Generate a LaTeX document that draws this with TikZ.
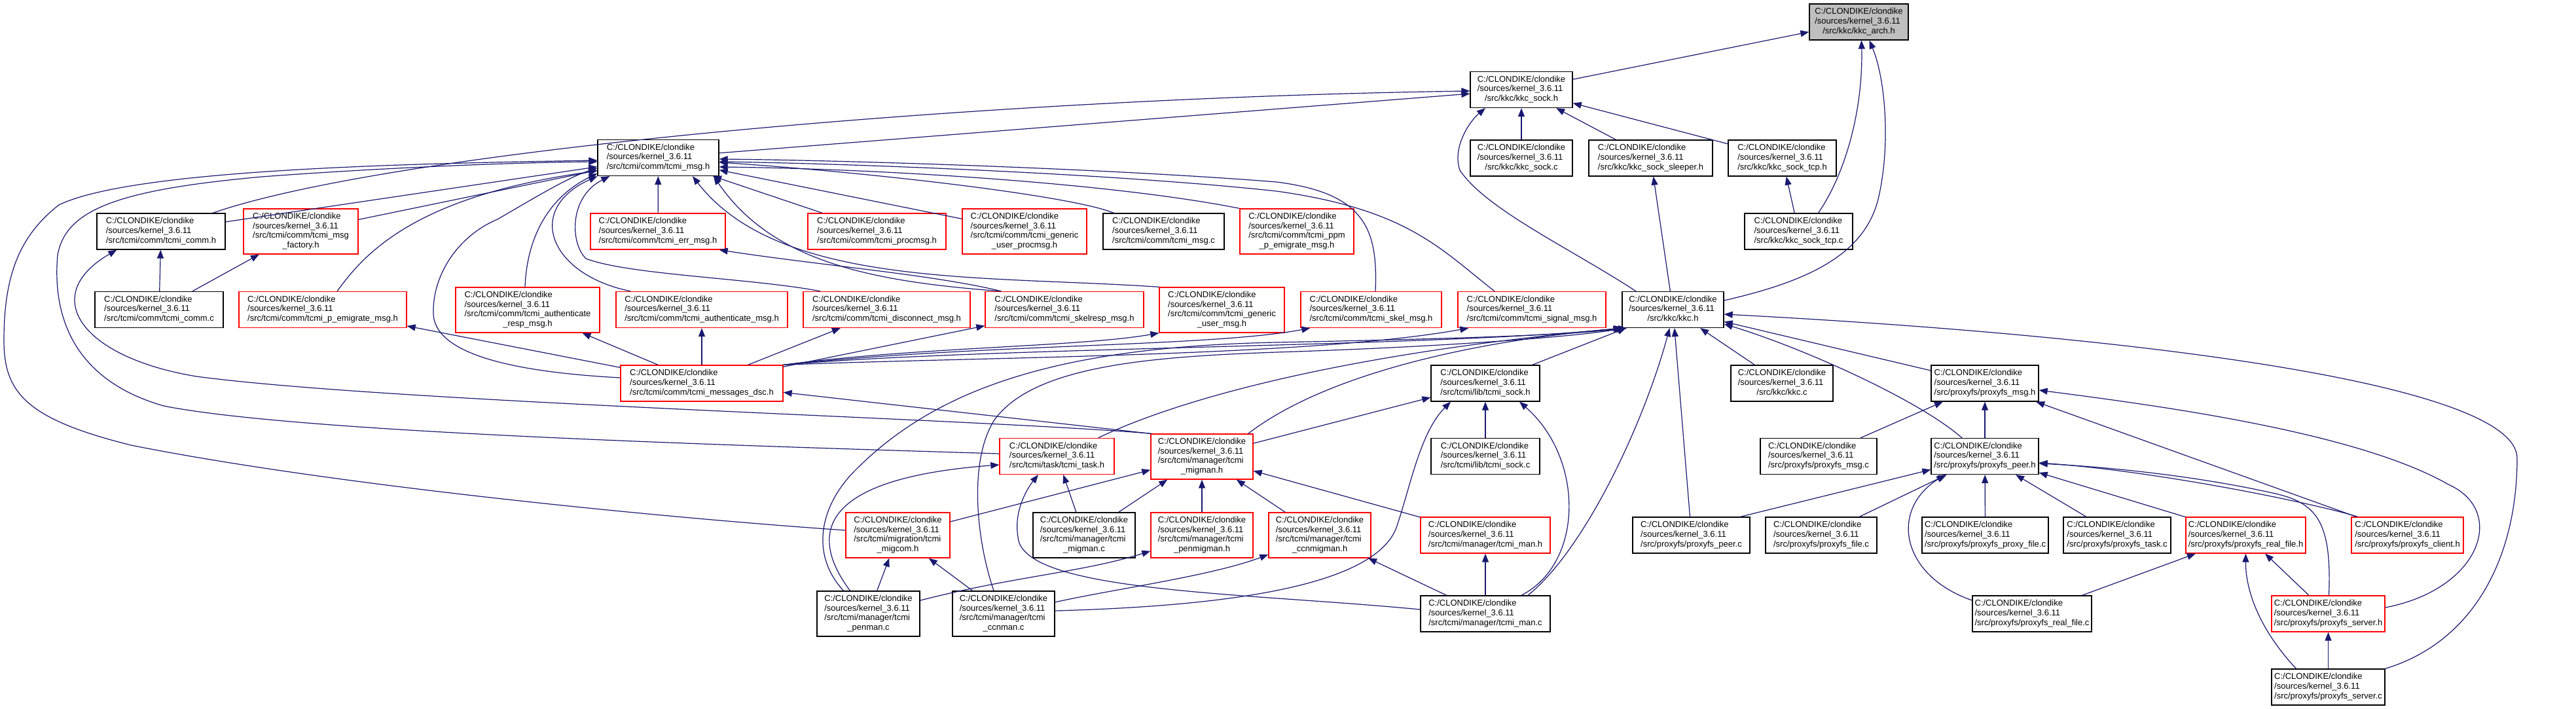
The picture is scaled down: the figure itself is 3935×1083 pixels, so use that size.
\documentclass[tikz,border=0pt]{standalone}
\usepackage{fontspec}
\setmainfont{Liberation Sans}
\usetikzlibrary{arrows.meta}

\definecolor{incblue}{HTML}{191970}
\definecolor{rootgray}{HTML}{BFBFBF}

% file labels: fixed prefix, then the path (last line centred)
\newcommand{\fthree}[1]{\begin{tabular}{@{}l@{}}C:/CLONDIKE/clondike\\/sources/kernel\_3.6.11\\\multicolumn{1}{@{}c@{}}{#1}\end{tabular}}
\newcommand{\ffour}[2]{\begin{tabular}{@{}l@{}}C:/CLONDIKE/clondike\\/sources/kernel\_3.6.11\\#1\\\multicolumn{1}{@{}c@{}}{#2}\end{tabular}}

\begin{document}
\begin{tikzpicture}[
    x=1pt, y=-1pt,
    fnode/.style={draw=black, line width=1.3pt, rectangle, inner sep=0pt, font=\fontsize{13}{14.7}\selectfont},
    fpart/.style={fnode, draw=red},
    froot/.style={fnode, fill=rootgray},
    n3/.style={minimum height=55pt},
    n4/.style={minimum height=69pt},
    inc/.style={draw=incblue, line width=1.2pt, -{Triangle[length=13pt,width=10pt]}}
]
    \path[use as bounding box, fill=white] (0,0) rectangle (3935,1083);

    % kkc headers
    \node[froot, n3, minimum width=151pt] (kkc_arch) at (2839.5,33.5) {\fthree{/src/kkc/kkc\_arch.h}};
    \node[fnode, n3, minimum width=156pt] (kkc_sock_h) at (2324,137) {\fthree{/src/kkc/kkc\_sock.h}};
    \node[fnode, n3, minimum width=185pt] (tcmi_msg_h) at (1005.5,241) {\fthree{/src/tcmi/comm/tcmi\_msg.h}};
    \node[fnode, n3, minimum width=156pt] (kkc_sock_c) at (2324,241.5) {\fthree{/src/kkc/kkc\_sock.c}};
    \node[fnode, n3, minimum width=189pt] (kkc_sock_sleeper_h) at (2521.5,241.5) {\fthree{/src/kkc/kkc\_sock\_sleeper.h}};
    \node[fnode, n3, minimum width=165pt] (kkc_sock_tcp_h) at (2722.5,241.5) {\fthree{/src/kkc/kkc\_sock\_tcp.h}};

    % comm layer
    \node[fnode, n3, minimum width=196pt] (tcmi_comm_h) at (246,353.5) {\fthree{/src/tcmi/comm/tcmi\_comm.h}};
    \node[fpart, n4, minimum width=175pt] (tcmi_msg_factory_h) at (459.5,353.5) {\ffour{/src/tcmi/comm/tcmi\_msg}{\_factory.h}};
    \node[fpart, n3, minimum width=206pt] (tcmi_err_msg_h) at (1005,353.5) {\fthree{/src/tcmi/comm/tcmi\_err\_msg.h}};
    \node[fpart, n3, minimum width=211pt] (tcmi_procmsg_h) at (1339.5,353.5) {\fthree{/src/tcmi/comm/tcmi\_procmsg.h}};
    \node[fpart, n4, minimum width=190pt] (tcmi_generic_user_procmsg_h) at (1565,353.5) {\ffour{/src/tcmi/comm/tcmi\_generic}{\_user\_procmsg.h}};
    \node[fnode, n3, minimum width=185pt] (tcmi_msg_c) at (1777.5,353.5) {\fthree{/src/tcmi/comm/tcmi\_msg.c}};
    \node[fpart, n4, minimum width=174pt] (tcmi_ppm_h) at (1981,353.5) {\ffour{/src/tcmi/comm/tcmi\_ppm}{\_p\_emigrate\_msg.h}};
    \node[fnode, n3, minimum width=165pt] (kkc_sock_tcp_c) at (2747.5,353.5) {\fthree{/src/kkc/kkc\_sock\_tcp.c}};

    \node[fnode, n3, minimum width=196pt] (tcmi_comm_c) at (243,473) {\fthree{/src/tcmi/comm/tcmi\_comm.c}};
    \node[fpart, n3, minimum width=256pt] (tcmi_p_emigrate_msg_h) at (493,473) {\fthree{/src/tcmi/comm/tcmi\_p\_emigrate\_msg.h}};
    \node[fpart, n4, minimum width=220pt] (tcmi_authenticate_resp_msg_h) at (806,473.5) {\ffour{/src/tcmi/comm/tcmi\_authenticate}{\_resp\_msg.h}};
    \node[fpart, n3, minimum width=262pt] (tcmi_authenticate_msg_h) at (1072,473) {\fthree{/src/tcmi/comm/tcmi\_authenticate\_msg.h}};
    \node[fpart, n3, minimum width=255pt] (tcmi_disconnect_msg_h) at (1354.5,473) {\fthree{/src/tcmi/comm/tcmi\_disconnect\_msg.h}};
    \node[fpart, n3, minimum width=242pt] (tcmi_skelresp_msg_h) at (1626,473) {\fthree{/src/tcmi/comm/tcmi\_skelresp\_msg.h}};
    \node[fpart, n4, minimum width=191pt] (tcmi_generic_user_msg_h) at (1866.5,473.5) {\ffour{/src/tcmi/comm/tcmi\_generic}{\_user\_msg.h}};
    \node[fpart, n3, minimum width=215pt] (tcmi_skel_msg_h) at (2094.5,473) {\fthree{/src/tcmi/comm/tcmi\_skel\_msg.h}};
    \node[fpart, n3, minimum width=226pt] (tcmi_signal_msg_h) at (2340,473) {\fthree{/src/tcmi/comm/tcmi\_signal\_msg.h}};
    \node[fnode, n3, minimum width=155pt] (kkc_h) at (2555.5,473) {\fthree{/src/kkc/kkc.h}};

    \node[fpart, n3, minimum width=248pt] (tcmi_messages_dsc_h) at (1072,585.5) {\fthree{/src/tcmi/comm/tcmi\_messages\_dsc.h}};
    \node[fnode, n3, minimum width=166pt] (tcmi_sock_h) at (2269,585.5) {\fthree{/src/tcmi/lib/tcmi\_sock.h}};
    \node[fnode, n3, minimum width=156pt] (kkc_c) at (2722,585.5) {\fthree{/src/kkc/kkc.c}};
    \node[fnode, n3, minimum width=164pt] (proxyfs_msg_h) at (3032,585.5) {\fthree{/src/proxyfs/proxyfs\_msg.h}};

    % manager and proxyfs
    \node[fpart, n3, minimum width=175pt] (tcmi_task_h) at (1614.5,697) {\fthree{/src/tcmi/task/tcmi\_task.h}};
    \node[fpart, n4, minimum width=156pt] (tcmi_migman_h) at (1836,697.5) {\ffour{/src/tcmi/manager/tcmi}{\_migman.h}};
    \node[fnode, n3, minimum width=166pt] (tcmi_sock_c) at (2269,697) {\fthree{/src/tcmi/lib/tcmi\_sock.c}};
    \node[fnode, n3, minimum width=178pt] (proxyfs_msg_c) at (2778,697) {\fthree{/src/proxyfs/proxyfs\_msg.c}};
    \node[fnode, n3, minimum width=164pt] (proxyfs_peer_h) at (3032,697) {\fthree{/src/proxyfs/proxyfs\_peer.h}};

    \node[fpart, n4, minimum width=159pt] (tcmi_migcom_h) at (1371.5,817.5) {\ffour{/src/tcmi/migration/tcmi}{\_migcom.h}};
    \node[fnode, n4, minimum width=156pt] (tcmi_migman_c) at (1656,817.5) {\ffour{/src/tcmi/manager/tcmi}{\_migman.c}};
    \node[fpart, n4, minimum width=156pt] (tcmi_penmigman_h) at (1836,817.5) {\ffour{/src/tcmi/manager/tcmi}{\_penmigman.h}};
    \node[fpart, n4, minimum width=156pt] (tcmi_ccnmigman_h) at (2016,817.5) {\ffour{/src/tcmi/manager/tcmi}{\_ccnmigman.h}};
    \node[fpart, n3, minimum width=198pt] (tcmi_man_h) at (2269,817.5) {\fthree{/src/tcmi/manager/tcmi\_man.h}};
    \node[fnode, n3, minimum width=179pt] (proxyfs_peer_c) at (2583.5,817.5) {\fthree{/src/proxyfs/proxyfs\_peer.c}};
    \node[fnode, n3, minimum width=170pt] (proxyfs_file_c) at (2782,817.5) {\fthree{/src/proxyfs/proxyfs\_file.c}};
    \node[fnode, n3, minimum width=193pt] (proxyfs_proxy_file_c) at (3032.5,817.5) {\fthree{/src/proxyfs/proxyfs\_proxy\_file.c}};
    \node[fnode, n3, minimum width=164pt] (proxyfs_task_c) at (3234,817.5) {\fthree{/src/proxyfs/proxyfs\_task.c}};
    \node[fpart, n3, minimum width=183pt] (proxyfs_real_file_h) at (3430.5,817.5) {\fthree{/src/proxyfs/proxyfs\_real\_file.h}};
    \node[fpart, n3, minimum width=171pt] (proxyfs_client_h) at (3677.5,817.5) {\fthree{/src/proxyfs/proxyfs\_client.h}};

    \node[fnode, n4, minimum width=157pt] (tcmi_penman_c) at (1326.5,937.5) {\ffour{/src/tcmi/manager/tcmi}{\_penman.c}};
    \node[fnode, n4, minimum width=156pt] (tcmi_ccnman_c) at (1533,937.5) {\ffour{/src/tcmi/manager/tcmi}{\_ccnman.c}};
    \node[fnode, n3, minimum width=198pt] (tcmi_man_c) at (2269,937.5) {\fthree{/src/tcmi/manager/tcmi\_man.c}};
    \node[fnode, n3, minimum width=182pt] (proxyfs_real_file_c) at (3104,937.5) {\fthree{/src/proxyfs/proxyfs\_real\_file.c}};
    \node[fpart, n3, minimum width=173pt] (proxyfs_server_h) at (3556.5,937.5) {\fthree{/src/proxyfs/proxyfs\_server.h}};
    \node[fnode, n3, minimum width=173pt] (proxyfs_server_c) at (3556.5,1049.5) {\fthree{/src/proxyfs/proxyfs\_server.c}};

    % includes of kkc_arch.h and kkc_sock.h
    \path[inc] (kkc_sock_h) -- (kkc_arch);
    \path[inc] ([xshift=30pt]kkc_sock_tcp_c.north) .. controls (2818,267) and (2846,170) .. ([xshift=4pt]kkc_arch.south);
    \path[inc] ([yshift=14pt]kkc_h.east) .. controls (2760,430) and (2850,390) .. (2870,300) .. controls (2888,220) and (2880,120) .. ([xshift=16pt]kkc_arch.south);
    \path[inc] (tcmi_msg_h) -- (kkc_sock_h);
    \path[inc] ([xshift=79pt]tcmi_comm_h.north) .. controls (600,230) and (1500,150) .. ([yshift=-2pt]kkc_sock_h.west);
    \path[inc] (kkc_sock_c) -- (kkc_sock_h);
    \path[inc] (kkc_sock_sleeper_h) -- (kkc_sock_h);
    \path[inc] (kkc_sock_tcp_h) -- (kkc_sock_h);
    \path[inc] ([xshift=-56.5pt]kkc_h.north) .. controls (2400,380) and (2270,320) .. (2230,260) .. controls (2218,225) and (2245,185) .. ([xshift=-55pt]kkc_sock_h.south);
    \path[inc] (kkc_h) -- (kkc_sock_sleeper_h);
    \path[inc] (kkc_sock_tcp_c) -- (kkc_sock_tcp_h);

    % includes of tcmi_msg.h
    \path[inc] (tcmi_comm_h) -- (tcmi_msg_h);
    \path[inc] (tcmi_msg_factory_h) -- (tcmi_msg_h);
    \path[inc] (tcmi_err_msg_h) -- (tcmi_msg_h);
    \path[inc] (tcmi_procmsg_h) -- (tcmi_msg_h);
    \path[inc] (tcmi_generic_user_procmsg_h) -- (tcmi_msg_h);
    \path[inc] ([xshift=17pt]tcmi_msg_c.north west) .. controls (1640,300) and (1350,265) .. ([yshift=-7pt]tcmi_msg_h.east);
    \path[inc] (tcmi_ppm_h.north west) .. controls (1700,280) and (1350,258) .. ([yshift=-14pt]tcmi_msg_h.east);
    \path[inc] ([xshift=22pt]tcmi_p_emigrate_msg_h.north) .. controls (555,390) and (630,300) .. ([yshift=-20pt]tcmi_msg_h.west);
    \path[inc] ([xshift=-4pt]tcmi_authenticate_resp_msg_h.north) .. controls (805,360) and (840,300) .. ([yshift=-24pt]tcmi_msg_h.west);
    \path[inc] ([xshift=23pt]tcmi_authenticate_msg_h.north west) .. controls (840,420) and (800,320) .. (tcmi_msg_h.south west);
    \path[inc] ([xshift=-101.5pt]tcmi_disconnect_msg_h.north) .. controls (1150,425) and (960,420) .. (895,395) .. controls (870,370) and (870,300) .. ([xshift=19pt]tcmi_msg_h.south west);
    \path[inc] ([xshift=25pt]tcmi_skelresp_msg_h.north west) .. controls (1330,430) and (1180,400) .. ([xshift=84.5pt]tcmi_msg_h.south);
    \path[inc] (tcmi_generic_user_msg_h.north west) .. controls (1500,420) and (1190,440) .. ([xshift=52.5pt]tcmi_msg_h.south);
    \path[inc] ([xshift=6.5pt]tcmi_skel_msg_h.north) .. controls (2105,350) and (2085,295) .. (1950,278) .. controls (1700,258) and (1300,245) .. ([yshift=-2pt]tcmi_msg_h.east);
    \path[inc] ([xshift=-57pt]tcmi_signal_msg_h.north) .. controls (2200,380) and (2150,320) .. (1950,292) .. controls (1700,265) and (1300,250) .. ([yshift=-6pt]tcmi_msg_h.east);
    \path[inc] ([yshift=8.5pt]tcmi_messages_dsc_h.west) .. controls (780,568) and (665,540) .. (662,480) .. controls (660,420) and (700,360) .. (760,335) .. controls (820,300) and (870,270) .. ([yshift=-16pt]tcmi_msg_h.west);
    \path[inc] ([yshift=4pt]tcmi_task_h.west) .. controls (1100,680) and (450,660) .. (250,620) .. controls (110,580) and (80,480) .. (88,390) .. controls (100,320) and (180,290) .. (400,270) .. controls (600,255) and (800,248) .. ([yshift=-6pt]tcmi_msg_h.west);
    \path[inc] ([yshift=7.5pt]tcmi_migcom_h.west) .. controls (1000,790) and (500,740) .. (200,680) .. controls (40,640) and (6,600) .. (6,520) .. controls (6,420) and (30,360) .. (90,313) .. controls (200,260) and (600,250) .. ([yshift=-4pt]tcmi_msg_h.west);

    % tcmi_comm.h, factory, err_msg
    \path[inc] (tcmi_comm_c) -- (tcmi_comm_h);
    \path[inc] ([xshift=2pt]tcmi_migman_h.north west) .. controls (1500,640) and (600,615) .. (300,575) .. controls (120,545) and (60,450) .. ([xshift=31pt]tcmi_comm_h.south west);
    \path[inc] (tcmi_comm_c) -- (tcmi_msg_factory_h);
    \path[inc] ([xshift=25pt]tcmi_skelresp_msg_h.north west) .. controls (1430,420) and (1250,405) .. ([xshift=-10pt]tcmi_err_msg_h.south east);

    % messages_dsc.h includes
    \path[inc] (tcmi_messages_dsc_h) -- (tcmi_p_emigrate_msg_h);
    \path[inc] (tcmi_messages_dsc_h) -- (tcmi_authenticate_resp_msg_h);
    \path[inc] (tcmi_messages_dsc_h) -- (tcmi_authenticate_msg_h);
    \path[inc] (tcmi_messages_dsc_h) -- (tcmi_disconnect_msg_h);
    \path[inc] (tcmi_messages_dsc_h) -- (tcmi_skelresp_msg_h);
    \path[inc] (tcmi_messages_dsc_h.north east) .. controls (1400,530) and (1650,530) .. (tcmi_generic_user_msg_h.south west);
    \path[inc] (tcmi_messages_dsc_h.north east) .. controls (1500,525) and (1850,530) .. ([xshift=15pt]tcmi_skel_msg_h.south west);
    \path[inc] (tcmi_messages_dsc_h.north east) .. controls (1500,545) and (2000,545) .. ([xshift=17pt]tcmi_signal_msg_h.south west);
    \path[inc] (tcmi_messages_dsc_h.north east) .. controls (1500,530) and (2200,530) .. (kkc_h.south west);

    % includes of kkc.h
    \path[inc] ([xshift=-25pt]tcmi_task_h.north east) .. controls (1800,610) and (2050,540) .. ([xshift=2pt]kkc_h.south west);
    \path[inc] ([xshift=-8pt]tcmi_migman_h.north east) .. controls (2040,560) and (2300,515) .. ([xshift=8pt]kkc_h.south west);
    \path[inc] ([xshift=-38pt]tcmi_penman_c.north) .. controls (1240,850) and (1250,780) .. (1300,725) .. controls (1420,600) and (1600,530) .. (1950,523) .. controls (2200,518) and (2400,512) .. ([xshift=4pt]kkc_h.south west);
    \path[inc] ([xshift=-15pt]tcmi_ccnman_c.north) .. controls (1490,820) and (1480,700) .. (1520,640) .. controls (1580,560) and (1750,545) .. (1950,538) .. controls (2200,530) and (2400,515) .. ([xshift=6pt]kkc_h.south west);
    \path[inc] (tcmi_sock_h) -- (kkc_h);
    \path[inc] ([xshift=65pt]tcmi_man_c.north) .. controls (2420,840) and (2510,650) .. ([xshift=-5pt]kkc_h.south);
    \path[inc] ([xshift=-2pt]proxyfs_peer_c.north) -- (kkc_h);
    \path[inc] (kkc_c) -- (kkc_h);
    \path[inc] (proxyfs_server_c.north east) .. controls (3780,980) and (3845,850) .. (3845,700) .. controls (3845,590) and (3300,515) .. ([yshift=-7pt]kkc_h.east);
    \path[inc] (proxyfs_msg_h) -- (kkc_h);
    \path[inc] ([xshift=-35pt]proxyfs_peer_h.north) .. controls (2930,610) and (2750,530) .. ([yshift=-22pt]kkc_h.east);

    % dsc, sock, task
    \path[inc] (tcmi_migman_h.north west) -- (tcmi_messages_dsc_h);
    \path[inc] (tcmi_migman_h) -- (tcmi_sock_h);
    \path[inc] ([yshift=4.5pt]tcmi_ccnman_c.east) .. controls (1900,925) and (2110,890) .. (2135,800) .. controls (2155,740) and (2170,660) .. ([xshift=-53pt]tcmi_sock_h.south);
    \path[inc] (tcmi_sock_c) -- (tcmi_sock_h);
    \path[inc] ([xshift=55pt]tcmi_man_c.north) .. controls (2420,860) and (2420,700) .. ([xshift=52pt]tcmi_sock_h.south);
    \path[inc] ([xshift=-28pt]tcmi_penman_c.north) .. controls (1230,810) and (1260,730) .. ([yshift=-13pt]tcmi_task_h.west);
    \path[inc] (tcmi_migman_c) -- (tcmi_task_h);
    \path[inc] ([yshift=6.5pt]tcmi_man_c.west) .. controls (1900,905) and (1560,905) .. (1555,820) .. controls (1548,780) and (1570,745) .. ([xshift=-28.5pt]tcmi_task_h.south);

    % manager headers
    \path[inc] (tcmi_migman_c) -- (tcmi_migman_h);
    \path[inc] (tcmi_penmigman_h) -- (tcmi_migman_h);
    \path[inc] (tcmi_ccnmigman_h) -- (tcmi_migman_h);
    \path[inc] (tcmi_man_h) -- (tcmi_migman_h);
    \path[inc] (tcmi_migcom_h) -- (tcmi_migman_h);
    \path[inc] (tcmi_penman_c) -- (tcmi_migcom_h);
    \path[inc] (tcmi_ccnman_c) -- (tcmi_migcom_h);
    \path[inc] (tcmi_penman_c) .. controls (1550,880) and (1650,875) .. (tcmi_penmigman_h);
    \path[inc] (tcmi_ccnman_c) .. controls (1700,900) and (1850,880) .. (tcmi_ccnmigman_h);
    \path[inc] (tcmi_man_c) -- (tcmi_ccnmigman_h);
    \path[inc] (tcmi_man_c) -- (tcmi_man_h);

    % proxyfs
    \path[inc] (proxyfs_msg_c) -- (proxyfs_msg_h);
    \path[inc] (proxyfs_peer_h) -- (proxyfs_msg_h);
    \path[inc] (proxyfs_client_h) -- (proxyfs_msg_h);
    \path[inc] ([yshift=9.5pt]proxyfs_server_h.east) .. controls (3790,900) and (3830,780) .. (3740,740) .. controls (3600,660) and (3300,620) .. ([yshift=-10.5pt]proxyfs_msg_h.east);
    \path[inc] ([xshift=75pt]proxyfs_peer_c.north) -- (proxyfs_peer_h);
    \path[inc] (proxyfs_file_c) -- (proxyfs_peer_h);
    \path[inc] ([yshift=20.5pt]proxyfs_real_file_c.west) .. controls (2905,880) and (2885,780) .. ([xshift=-61pt]proxyfs_peer_h.south);
    \path[inc] (proxyfs_proxy_file_c) -- (proxyfs_peer_h);
    \path[inc] (proxyfs_task_c) -- (proxyfs_peer_h);
    \path[inc] (proxyfs_real_file_h) -- (proxyfs_peer_h);
    \path[inc] ([xshift=10pt]proxyfs_client_h.north west) .. controls (3540,770) and (3300,720) .. ([yshift=-10pt]proxyfs_peer_h.east);
    \path[inc] ([xshift=1pt]proxyfs_server_h.north) .. controls (3562,800) and (3540,770) .. (3480,755) .. controls (3350,725) and (3200,712) .. ([yshift=-11pt]proxyfs_peer_h.east);
    \path[inc] (proxyfs_real_file_c) -- (proxyfs_real_file_h);
    \path[inc] ([xshift=-49pt]proxyfs_server_c.north) .. controls (3450,960) and (3430,900) .. (proxyfs_real_file_h.south);
    \path[inc] (proxyfs_server_h) -- (proxyfs_real_file_h);
    \path[inc] (proxyfs_server_c) -- (proxyfs_server_h);

\end{tikzpicture}
\end{document}
